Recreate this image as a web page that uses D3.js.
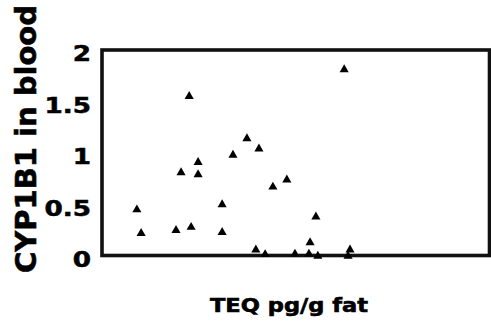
<!DOCTYPE html>
<html>
<head>
<meta charset="utf-8">
<script src="https://cdn.jsdelivr.net/npm/d3@7"></script>
<style>
  html, body { margin: 0; padding: 0; background: #fff; }
  svg { display: block; }
  text { font-family: "DejaVu Sans", sans-serif; font-weight: bold; fill: #000; }
</style>
</head>
<body>
<svg id="chart" width="491" height="323"></svg>
<script>
// TEQ (pg/g fat), arbitrary unlabeled scale 0..100
const teq = [9.0, 10.1, 19.1, 23.0, 22.5, 20.4, 24.8, 24.8, 31.0, 31.0, 33.8, 37.4, 40.5, 44.1, 47.7, 39.7, 42.1, 49.8, 62.5, 55.2, 53.7, 53.4, 55.7, 64.0, 63.5];
// CYP1B1 in blood
const cyp = [0.45, 0.22, 0.25, 0.28, 1.55, 0.81, 0.91, 0.79, 0.50, 0.23, 0.98, 1.14, 1.04, 0.67, 0.74, 0.06, 0.015, 0.02, 1.81, 0.38, 0.13, 0.02, 0.0, 0.06, 0.0];
const yTicks = [0, 0.5, 1, 1.5, 2];
const yTickLabels = ["0", "0.5", "1", "1.5", "2"];
const yTitle = "CYP1B1 in blood";
const xTitle = "TEQ pg/g fat";

const svg = d3.select("#chart");
const mLeft = 102, mRight = 489.5, mTop = 50, mBottom = 256;

const x = d3.scaleLinear().domain([0, 100]).range([mLeft, mRight]);
const y = d3.scaleLinear().domain([0, 2]).range([mBottom, mTop]);

// Y axis labels
const yAxis = d3.axisLeft(y)
  .tickValues(yTicks)
  .tickFormat((d, i) => yTickLabels[i])
  .tickSize(0)
  .tickPadding(0);
const gy = svg.append("g").attr("transform", `translate(${mLeft},0)`).call(yAxis);
gy.select(".domain").remove();
gy.selectAll(".tick text")
  .attr("x", -11)
  .attr("dy", "0.36em")
  .attr("y", 3)
  .attr("text-anchor", "end")
  .style("font-family", "'DejaVu Sans', sans-serif")
  .style("font-weight", "bold")
  .style("font-size", "21px")
  .style("stroke", "#000")
  .style("stroke-width", "0.5px")
  .attr("fill", "#000")
  .each(function () {
    const w = this.getComputedTextLength();
    d3.select(this)
      .attr("textLength", w * 1.25)
      .attr("lengthAdjust", "spacingAndGlyphs");
  });

// Frame
svg.append("rect")
  .attr("x", mLeft)
  .attr("y", mTop)
  .attr("width", mRight - mLeft)
  .attr("height", y(0) - mTop - 0.5)
  .attr("fill", "none")
  .attr("stroke", "#111")
  .attr("stroke-width", 3.6);

// Points
const tri = d3.symbol().type(d3.symbolTriangle).size(36);
svg.append("g")
  .selectAll("path")
  .data(teq.map((v, i) => [v, cyp[i]]))
  .join("path")
  .attr("d", tri)
  .attr("transform", d => `translate(${x(d[0])},${y(d[1])})`)
  .attr("fill", "#000");

// Titles
svg.append("text")
  .attr("transform", "translate(36,139) rotate(-90)")
  .attr("text-anchor", "middle")
  .attr("textLength", 268)
  .attr("lengthAdjust", "spacingAndGlyphs")
  .style("font-size", "29px")
  .style("stroke", "#000")
  .style("stroke-width", "0.6px")
  .text(yTitle);

svg.append("text")
  .attr("x", 289)
  .attr("y", 312)
  .attr("text-anchor", "middle")
  .attr("textLength", 158)
  .attr("lengthAdjust", "spacingAndGlyphs")
  .style("font-size", "19px")
  .style("stroke", "#000")
  .style("stroke-width", "0.6px")
  .text(xTitle);
</script>
</body>
</html>
